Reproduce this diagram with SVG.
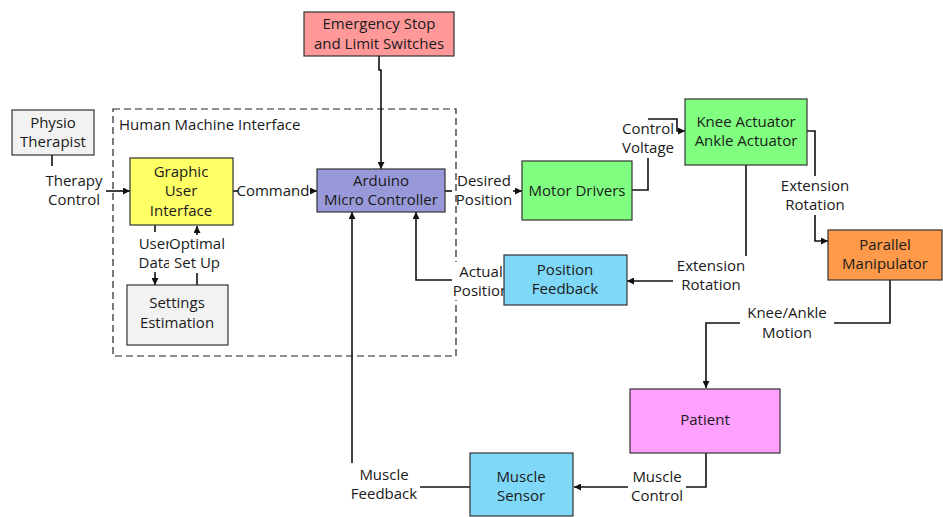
<svg xmlns="http://www.w3.org/2000/svg" width="943" height="517" viewBox="0 0 943 517">
<defs>
<style>
text{font-family:"Open Sans","Liberation Sans",sans-serif;font-size:15px;fill:#1a1a1a;text-anchor:middle}
.l{text-anchor:start}
.box{stroke:#333;stroke-width:1.2}
.c{fill:none;stroke:#111;stroke-width:1.6}
.bg{fill:#fff}
</style>
<marker id="a" viewBox="0 0 10 10" refX="10" refY="5" markerWidth="7" markerHeight="7" markerUnits="userSpaceOnUse" orient="auto"><path d="M0,0L10,5L0,10z" fill="#111"/></marker>
</defs>
<rect width="943" height="517" fill="#fff"/>
<g id="hmi">
<rect x="113" y="109" width="343" height="247" fill="none" stroke="#222" stroke-width="1.2" stroke-dasharray="7,4"/>
<text class="l" x="119" y="130">Human Machine Interface</text>
</g>
<g id="connectors">
<polyline class="c" points="52,155 52,166"/>
<polyline class="c" points="104,191 130,191" marker-end="url(#a)"/>
<polyline class="c" points="233,191 238,191"/>
<polyline class="c" points="310,191 317,191" marker-end="url(#a)"/>
<polyline class="c" points="379,56 379,70 381,70 381,169" marker-end="url(#a)"/>
<polyline class="c" points="445,191 452,191"/>
<polyline class="c" points="513,191 522,191" marker-end="url(#a)"/>
<polyline class="c" points="632,190 648,190 648,158"/>
<polyline class="c" points="648,119 677,119 677,131 685,131" marker-end="url(#a)"/>
<polyline class="c" points="807,131 815,131 815,176"/>
<polyline class="c" points="815,215 815,241 828,241" marker-end="url(#a)"/>
<polyline class="c" points="746,165 746,281 627,281" marker-end="url(#a)"/>
<polyline class="c" points="504,280 416,280 416,212" marker-end="url(#a)"/>
<polyline class="c" points="890,280 890,323 706,323 706,388" marker-end="url(#a)"/>
<polyline class="c" points="706,453 706,487 574,487" marker-end="url(#a)"/>
<polyline class="c" points="470,487 418,487"/>
<polyline class="c" points="352,463 352,212" marker-end="url(#a)"/>
<polyline class="c" points="155,225 155,232"/>
<polyline class="c" points="155,272 155,285" marker-end="url(#a)"/>
<polyline class="c" points="197,285 197,273"/>
<polyline class="c" points="197,235 197,226" marker-end="url(#a)"/>
</g>
<g id="labels">
<rect class="bg" x="44" y="168" width="62" height="40"/>
<text x="74" y="186">Therapy</text><text x="74" y="205">Control</text>
<text x="273" y="196">Command</text>
<text x="484" y="186">Desired</text><text x="484" y="205">Position</text>
<rect class="bg" x="618" y="120" width="58" height="38"/>
<text x="648" y="134">Control</text><text x="648" y="153">Voltage</text>
<rect class="bg" x="776" y="176" width="78" height="39"/>
<text x="815" y="191">Extension</text><text x="815" y="210">Rotation</text>
<rect class="bg" x="673" y="256" width="78" height="36"/>
<text x="711" y="271">Extension</text><text x="711" y="290">Rotation</text>
<rect class="bg" x="452" y="262" width="56" height="38"/>
<text x="481" y="277">Actual</text><text x="481" y="296">Position</text>
<rect class="bg" x="740" y="304" width="94" height="38"/>
<text x="787" y="318">Knee/Ankle</text><text x="787" y="338">Motion</text>
<rect class="bg" x="628" y="467" width="58" height="37"/>
<text x="657" y="482">Muscle</text><text x="657" y="501">Control</text>
<rect class="bg" x="346" y="465" width="74" height="38"/>
<text x="384" y="480">Muscle</text><text x="384" y="499">Feedback</text>
<text x="155" y="249">User</text><text x="155" y="268">Data</text>
<rect class="bg" x="169" y="236" width="58" height="36"/>
<text x="197" y="249">Optimal</text><text x="197" y="268">Set Up</text>
</g>
<g id="physio"><rect class="box" x="12" y="110" width="82" height="45" fill="#f2f2f2"/><text x="53" y="128">Physio</text><text x="53" y="147">Therapist</text></g>
<g id="gui"><rect class="box" x="130" y="158" width="103" height="67" fill="#ffff66"/><text x="181" y="177">Graphic</text><text x="181" y="196">User</text><text x="181" y="216">Interface</text></g>
<g id="settings"><rect class="box" x="127" y="285" width="101" height="60" fill="#f2f2f2"/><text x="177" y="308">Settings</text><text x="177" y="328">Estimation</text></g>
<g id="arduino"><rect class="box" x="317" y="169" width="128" height="43" fill="#9999d9"/><text x="381" y="186">Arduino</text><text x="381" y="205">Micro Controller</text></g>
<g id="estop"><rect class="box" x="304" y="12" width="150" height="44" fill="#ff9999"/><text x="379" y="29">Emergency Stop</text><text x="379" y="49">and Limit Switches</text></g>
<g id="motor"><rect class="box" x="522" y="161" width="110" height="59" fill="#80ff80"/><text x="577" y="196">Motor Drivers</text></g>
<g id="actuator"><rect class="box" x="685" y="99" width="122" height="66" fill="#80ff80"/><text x="746" y="127">Knee Actuator</text><text x="746" y="146">Ankle Actuator</text></g>
<g id="parallel"><rect class="box" x="828" y="230" width="114" height="50" fill="#ff9a4a"/><text x="885" y="250">Parallel</text><text x="885" y="269">Manipulator</text></g>
<g id="posfb"><rect class="box" x="504" y="255" width="123" height="50" fill="#80d8f8"/><text x="565" y="275">Position</text><text x="565" y="294">Feedback</text></g>
<g id="patient"><rect class="box" x="630" y="389" width="150" height="64" fill="#ffa0ff"/><text x="705" y="425">Patient</text></g>
<g id="sensor"><rect class="box" x="470" y="453" width="103" height="63" fill="#80d8f8"/><text x="521" y="482">Muscle</text><text x="521" y="501">Sensor</text></g>
</svg>
